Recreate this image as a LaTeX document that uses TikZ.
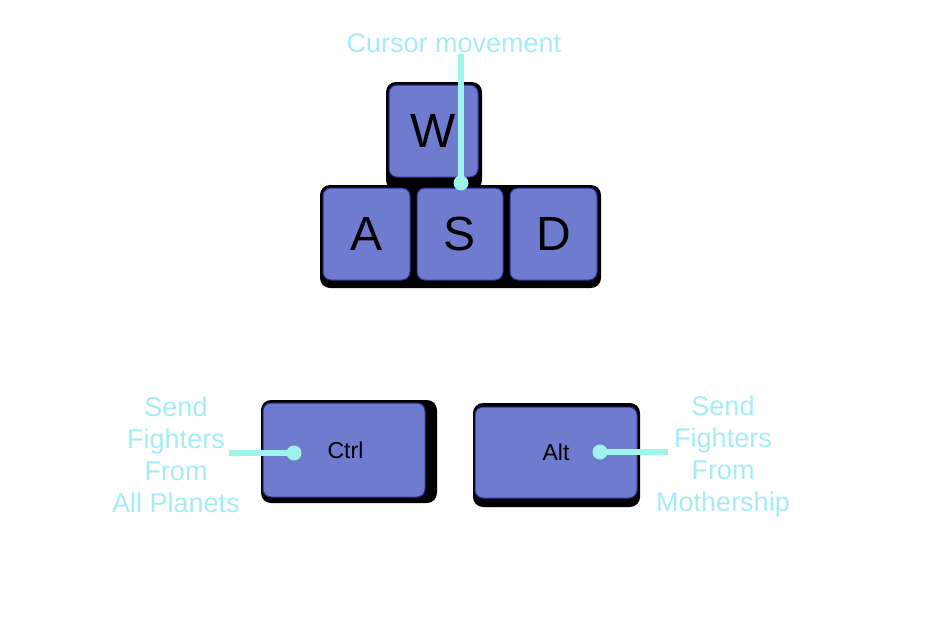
\documentclass[tikz,border=0pt]{standalone}
\usepackage{fontspec}
\setmainfont{Liberation Sans}
\begin{document}
\begin{tikzpicture}[x=1pt,y=-1pt,
  keybox/.style={draw={rgb,255:red,40;green,50;blue,150},line width=1pt,fill={rgb,255:red,110;green,123;blue,207},rounded corners=8pt,inner sep=0pt,text=black},
  keyshadow/.style={fill=black,rounded corners=10pt},
  lbl/.style={text={rgb,255:red,166;green,236;blue,246},align=center,font=\fontsize{27}{32}\selectfont,inner sep=0pt},
  conn/.style={draw={rgb,255:red,158;green,244;blue,234},line width=6pt},
  dotfill/.style={fill={rgb,255:red,158;green,244;blue,234}}]
\useasboundingbox (0,0) rectangle (948,616);
% shadows
\fill[keyshadow] (386,82) rectangle (482,190);
\fill[keyshadow] (320,185) rectangle (601,288);
\fill[keyshadow] (261,400) rectangle (437,503);
\fill[keyshadow] (473,403) rectangle (640,507);
% keys
\node[keybox,minimum width=89pt,minimum height=92pt,font=\fontsize{48}{48}\selectfont] (w) at (433.5,131) {W};
\node[keybox,minimum width=87pt,minimum height=92pt,font=\fontsize{48}{48}\selectfont] (a) at (366.5,234) {A};
\node[keybox,minimum width=86pt,minimum height=92pt,font=\fontsize{48}{48}\selectfont] (s) at (460,234) {S};
\node[keybox,minimum width=87pt,minimum height=92pt,font=\fontsize{48}{48}\selectfont] (d) at (553.5,234) {D};
\node[keybox,minimum width=162pt,minimum height=94pt,font=\fontsize{23}{23}\selectfont] (ctrl) at (344,450) {\hspace*{3pt}Ctrl};
\node[keybox,minimum width=162pt,minimum height=91pt,font=\fontsize{23}{23}\selectfont] (alt) at (556,452.5) {Alt};
% labels
\node[lbl] (cursor) at (454,43) {Cursor movement};
\node[lbl] (left) at (176,455) {Send\\Fighters\\From\\All Planets};
\node[lbl] (right) at (723,457) {Send\\Fighters\\From\\Mothership};
% connectors
\coordinate (sdot) at (461,183);
\coordinate (ctop) at (461,54);
\coordinate (ldot) at (294,453);
\coordinate (lend) at (229,453);
\coordinate (rdot) at (600,452);
\coordinate (rend) at (668,452);
\draw[conn] (ctop) -- (sdot);
\fill[dotfill] (sdot) circle (7.5pt);
\draw[conn] (lend) -- (ldot);
\fill[dotfill] (ldot) circle (7.5pt);
\draw[conn] (rend) -- (rdot);
\fill[dotfill] (rdot) circle (7.5pt);
\end{tikzpicture}
\end{document}
